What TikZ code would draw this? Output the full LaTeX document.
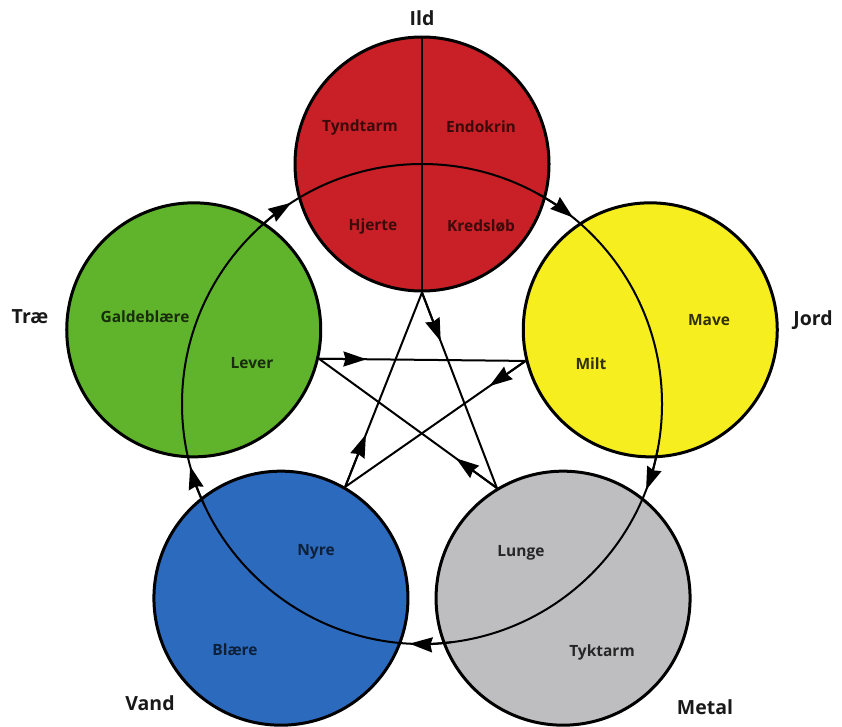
\documentclass[tikz,border=0pt]{standalone}
\usepackage{fontspec}
\setmainfont{Open Sans}
\usepackage{tikz}
\usetikzlibrary{arrows.meta,calc}

\definecolor{firered}{RGB}{200,32,38}
\definecolor{earthyellow}{RGB}{246,238,30}
\definecolor{metalgrey}{RGB}{190,190,192}
\definecolor{waterblue}{RGB}{44,106,190}
\definecolor{woodgreen}{RGB}{96,180,44}

\begin{document}
\begin{tikzpicture}[
    x=1pt, y=1pt,
    element/.style={circle, draw=black, line width=3pt, minimum size=254pt, inner sep=0pt},
    elabel/.style={font=\fontsize{19.5}{23}\selectfont\bfseries, text=black!90},
    organ/.style={font=\fontsize{15.5}{18}\selectfont\bfseries},
    ring/.style={line width=2pt, color=black},
    arrow/.style={-{Stealth[length=23pt, width=15pt, inset=2pt]}, line width=2pt, color=black}
]
    \useasboundingbox (0,0) rectangle (842,-726);
    \coordinate (C) at (422,-404);

    % --- Elements ---
    \node[element, fill=firered] (ild) at ($(C)+(90:240)$) {};
    \node[element, fill=earthyellow] (jord) at ($(C)+(18:240)$) {};
    \node[element, fill=metalgrey] (metal) at ($(C)+(-54:240)$) {};
    \node[element, fill=waterblue] (vand) at ($(C)+(-126:240)$) {};
    \node[element, fill=woodgreen] (trae) at ($(C)+(162:240)$) {};

    % --- Outer cycle ---
    \draw[ring] (C) circle[radius=240];
    \draw[ring] (ild.north) -- (ild.south);

    \draw[arrow] ($(C)+(133:240)$) arc[start angle=133, end angle=123, radius=240];
    \draw[arrow] ($(C)+(61:240)$) arc[start angle=61, end angle=51, radius=240];
    \draw[arrow] ($(C)+(-11:240)$) arc[start angle=-11, end angle=-21, radius=240];
    \draw[arrow] ($(C)+(-83:240)$) arc[start angle=-83, end angle=-93, radius=240];
    \draw[arrow] ($(C)+(205:240)$) arc[start angle=205, end angle=195, radius=240];

    % --- Star ---
    \draw[ring] (trae.-13) -- (jord.-166);
    \draw[ring] (jord.-166) -- (vand.60);
    \draw[ring] (vand.60) -- (ild.-90);
    \draw[ring] (ild.-90) -- (metal.121);
    \draw[ring] (metal.121) -- (trae.-13);

    \draw[arrow] (trae.-13) -- ($(trae.-13)!0.23!(jord.-166)$);
    \draw[arrow] (jord.-166) -- ($(jord.-166)!0.2!(vand.60)$);
    \draw[arrow] (vand.60) -- ($(vand.60)!0.27!(ild.-90)$);
    \draw[arrow] (ild.-90) -- ($(ild.-90)!0.25!(metal.121)$);
    \draw[arrow] (metal.121) -- ($(metal.121)!0.23!(trae.-13)$);

    % --- Element names ---
    \node[elabel] (ild-name) at (422,-18) {Ild};
    \node[elabel] (jord-name) at (813,-320) {Jord};
    \node[elabel] (metal-name) at (705,-707) {Metal};
    \node[elabel] (vand-name) at (150,-703) {Vand};
    \node[elabel] (trae-name) at (30,-317) {Træ};

    % --- Organs ---
    \node[organ, text=firered!30!black] (tyndtarm) at (360,-127) {Tyndtarm};
    \node[organ, text=firered!30!black] (endokrin) at (481,-127) {Endokrin};
    \node[organ, text=firered!30!black] (hjerte) at (373,-226) {Hjerte};
    \node[organ, text=firered!30!black] (kredslob) at (481,-226) {Kredsløb};

    \node[organ, text=earthyellow!20!black] (mave) at (709,-320) {Mave};
    \node[organ, text=earthyellow!20!black] (milt) at (591,-364) {Milt};

    \node[organ, text=black!85] (lunge) at (521,-553) {Lunge};
    \node[organ, text=black!85] (tyktarm) at (602,-652) {Tyktarm};

    \node[organ, text=waterblue!30!black] (nyre) at (316,-552) {Nyre};
    \node[organ, text=waterblue!30!black] (blaere) at (235,-650) {Blære};

    \node[organ, text=woodgreen!25!black] (galdeblaere) at (145,-317) {Galdeblære};
    \node[organ, text=woodgreen!25!black] (lever) at (252,-363) {Lever};

\end{tikzpicture}
\end{document}
